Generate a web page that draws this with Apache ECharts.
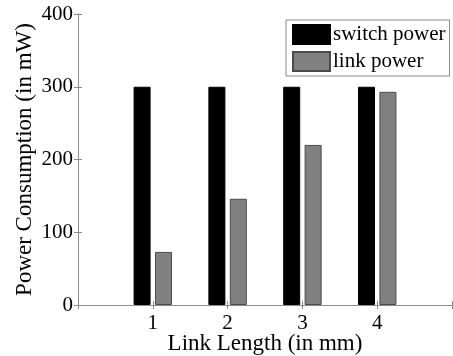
<!DOCTYPE html>
<html>
<head>
<meta charset="utf-8">
<script src="https://cdn.jsdelivr.net/npm/echarts@6/dist/echarts.min.js"></script>
<style>
  html, body { margin: 0; padding: 0; background: #fff; }
  #chart { width: 453px; height: 356px; }
</style>
</head>
<body>
<div id="chart"></div>
<script>
// link lengths (mm) and power values (mW)
var linkLengths = [1, 2, 3, 4]
var switchPower = [300, 300, 300, 300]
var linkPower = [73, 146, 220, 293]
var seriesNames = ['switch power', 'link power']

var font = 'Liberation Serif'
var axisGray = '#8c8c8c'

function pairs (ys) {
  return linkLengths.map(function (x, i) { return [x, ys[i]] })
}

var chart = echarts.init(document.getElementById('chart'))
var option = {
  animation: false,
  backgroundColor: '#fff',
  grid: {
    left: 78,
    top: 14,
    right: 1,
    bottom: 51,
    containLabel: false,
    outerBoundsMode: 'none'
  },
  legend: {
    orient: 'vertical',
    left: 286,
    top: 20,
    icon: 'rect',
    itemWidth: 37,
    itemHeight: 19,
    itemGap: 6,
    padding: [4, 4, 4, 6],
    borderColor: axisGray,
    borderWidth: 1,
    backgroundColor: '#fff',
    data: seriesNames,
    textStyle: {
      fontFamily: font,
      fontSize: 21,
      color: '#000',
      padding: [0, 0, 0, -2]
    }
  },
  xAxis: [{
    type: 'value',
    min: 0,
    max: 5,
    interval: 1,
    name: 'Link Length (in mm)',
    nameLocation: 'middle',
    nameGap: 27,
    nameMoveOverlap: false,
    nameTextStyle: { fontFamily: font, fontSize: 23, color: '#000' },
    axisLine: { lineStyle: { color: axisGray } },
    axisTick: { inside: true, length: 4, lineStyle: { color: axisGray } },
    axisLabel: {
      fontFamily: font,
      fontSize: 21,
      color: '#000',
      margin: 8,
      formatter: function (v) { return (v === 0 || v === 5) ? '' : v }
    },
    splitLine: { show: false }
  }, {
    type: 'value',
    position: 'top',
    min: 0,
    max: 5,
    interval: 1,
    axisLine: { show: true, lineStyle: { color: axisGray } },
    axisTick: { inside: true, length: 4, lineStyle: { color: axisGray } },
    axisLabel: { show: false },
    splitLine: { show: false }
  }],
  yAxis: [{
    type: 'value',
    min: 0,
    max: 400,
    interval: 100,
    name: 'Power Consumption (in mW)',
    nameLocation: 'middle',
    nameGap: 42,
    nameMoveOverlap: false,
    nameTextStyle: { fontFamily: font, fontSize: 23, color: '#000' },
    axisLine: { show: true, lineStyle: { color: axisGray } },
    axisTick: { show: true, inside: true, length: 4, lineStyle: { color: axisGray } },
    axisLabel: { fontFamily: font, fontSize: 21, color: '#000', margin: 5 },
    splitLine: { show: false }
  }, {
    type: 'value',
    position: 'right',
    min: 0,
    max: 400,
    interval: 100,
    axisLine: { show: true, lineStyle: { color: axisGray } },
    axisTick: { show: true, inside: true, length: 4, lineStyle: { color: axisGray } },
    axisLabel: { show: false },
    splitLine: { show: false }
  }],
  series: [{
    name: seriesNames[0],
    type: 'bar',
    barWidth: 17,
    barGap: '26%',
    itemStyle: { color: '#000', borderColor: '#000', borderWidth: 1 },
    data: pairs(switchPower)
  }, {
    name: seriesNames[1],
    type: 'bar',
    barWidth: 17,
    barGap: '26%',
    itemStyle: { color: '#808080', borderColor: '#4a4a4a', borderWidth: 1 },
    data: pairs(linkPower)
  }]
}
chart.setOption(option)
</script>
</body>
</html>
